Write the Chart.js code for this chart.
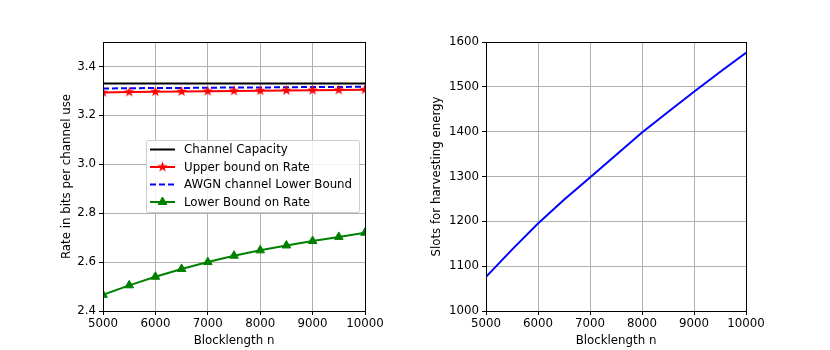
<!DOCTYPE html>
<html>
<head>
<meta charset="utf-8">
<script src="https://cdn.jsdelivr.net/npm/chart.js@4"></script>
<style>
  body { margin: 0; background: #fff; }
  #wrap { position: relative; width: 830px; height: 350px; }
  .box { position: absolute; top: 0; height: 350px; }
</style>
</head>
<body>
<div id="wrap">
  <div class="box" style="left:0;width:415px"><canvas id="left"></canvas></div>
  <div class="box" style="left:415px;width:415px"><canvas id="right"></canvas></div>
</div>
<script>
// blocklength values (x axis)
const blocklength = [5000, 5500, 6000, 6500, 7000, 7500, 8000, 8500, 9000, 9500, 10000]

// left panel series
const channelCapacity = [3.330, 3.330, 3.330, 3.330, 3.330, 3.330, 3.330, 3.330, 3.330, 3.330, 3.330]
const upperBound = [3.294, 3.296, 3.297, 3.298, 3.299, 3.300, 3.301, 3.302, 3.303, 3.304, 3.305]
const awgnLower = [3.310, 3.311, 3.312, 3.312, 3.313, 3.314, 3.314, 3.315, 3.316, 3.316, 3.317]
const lowerBound = [2.466, 2.505, 2.540, 2.572, 2.600, 2.626, 2.648, 2.668, 2.686, 2.703, 2.720]

// right panel series
const harvestSlots = [1076, 1137, 1195, 1248, 1298, 1348, 1398, 1444, 1489, 1533, 1576]

// tick labels
const xTicks = [5000, 6000, 7000, 8000, 9000, 10000]
const leftYTicks = [2.4, 2.6, 2.8, 3.0, 3.2, 3.4]
const rightYTicks = [1000, 1100, 1200, 1300, 1400, 1500, 1600]

const FONT = { family: 'DejaVu Sans', size: 11.8 }
Chart.defaults.font.family = 'DejaVu Sans'
Chart.defaults.color = '#000'

const toPoints = (ys) => ys.map((y, i) => ({ x: blocklength[i], y: y }))

// filled five-pointed star like matplotlib's '*' marker
function starMarker(color, r) {
  const c = document.createElement('canvas')
  const s = Math.ceil(r * 2 + 2)
  c.width = s; c.height = s
  const g = c.getContext('2d')
  g.fillStyle = color
  g.beginPath()
  for (let i = 0; i < 10; i++) {
    const rad = i % 2 === 0 ? r : r * 0.42
    const ang = -Math.PI / 2 + i * Math.PI / 5
    const px = s / 2 + rad * Math.cos(ang), py = s / 2 + rad * Math.sin(ang)
    if (i === 0) g.moveTo(px, py); else g.lineTo(px, py)
  }
  g.closePath()
  g.fill()
  return c
}
const redStar = starMarker('#ff0000', 5.5)

// draws the full black frame round the plot area
const frame = {
  id: 'frame',
  afterDraw(chart) {
    const { ctx, chartArea: a } = chart
    ctx.save()
    ctx.strokeStyle = '#000'
    ctx.lineWidth = 1
    ctx.strokeRect(Math.round(a.left) + 0.5, Math.round(a.top) + 0.5,
      Math.round(a.right - a.left), Math.round(a.bottom - a.top))
    ctx.restore()
  }
}

// matplotlib-ish legend inside the plot
const boxLegend = {
  id: 'boxLegend',
  afterDraw(chart) {
    const { ctx, chartArea: a } = chart
    const x0 = a.left + 43, y0 = a.top + 98, w = 213, h = 72
    ctx.save()
    ctx.fillStyle = 'rgba(255,255,255,0.85)'
    ctx.strokeStyle = '#cccccc'
    ctx.lineWidth = 1
    ctx.beginPath()
    ctx.roundRect(x0 + 0.5, y0 + 0.5, w, h, 2)
    ctx.fill()
    ctx.stroke()
    ctx.font = '11.8px "DejaVu Sans"'
    ctx.textBaseline = 'middle'
    chart.data.datasets.forEach((ds, i) => {
      const cy = y0 + 9.5 + i * 17.5
      ctx.strokeStyle = ds.borderColor
      ctx.lineWidth = ds.borderWidth
      ctx.setLineDash(ds.borderDash || [])
      ctx.beginPath()
      ctx.moveTo(x0 + 4, cy)
      ctx.lineTo(x0 + 29, cy)
      ctx.stroke()
      ctx.setLineDash([])
      if (ds.pointStyle && ds.pointRadius > 0) {
        ctx.fillStyle = ds.backgroundColor
        ctx.strokeStyle = ds.pointBorderColor
        ctx.lineWidth = ds.pointBorderWidth || 1
        Chart.helpers.drawPoint(ctx, {
          pointStyle: ds.pointStyle, radius: ds.pointRadius, rotation: 0,
          borderWidth: ds.pointBorderWidth || 1
        }, x0 + 16.5, cy)
      }
      ctx.fillStyle = '#000'
      ctx.fillText(ds.label, x0 + 38, cy + 0.5)
    })
    ctx.restore()
  }
}

function xScale() {
  return {
    type: 'linear', min: 5000, max: 10000,
    afterBuildTicks: (s) => { s.ticks = xTicks.map(v => ({ value: v })) },
    afterFit: (s) => { s.height = 39 },
    ticks: { font: FONT, padding: 2, maxRotation: 0, autoSkip: false, callback: (v) => String(v) },
    grid: { color: '#b0b0b0', tickColor: '#000', tickLength: 4, lineWidth: 1 },
    border: { color: '#000' },
    title: { display: true, text: 'Blocklength n', font: FONT, padding: { top: 2, bottom: 2 } }
  }
}

function yScale(min, max, ticks, fmt, width, label) {
  return {
    type: 'linear', min: min, max: max,
    afterBuildTicks: (s) => { s.ticks = ticks.map(v => ({ value: v })) },
    afterFit: (s) => { s.width = width },
    ticks: { font: FONT, padding: 3, callback: fmt },
    grid: { color: '#b0b0b0', tickColor: '#000', tickLength: 4, lineWidth: 1 },
    border: { color: '#000' },
    title: { display: true, text: label, font: FONT, padding: { top: 0, bottom: 0 } }
  }
}

const common = {
  responsive: true,
  maintainAspectRatio: false,
  animation: false,
  plugins: { legend: { display: false }, tooltip: { enabled: false } },
  elements: { line: { tension: 0 } }
}

new Chart(document.getElementById('left'), {
  type: 'line',
  data: {
    datasets: [
      { label: 'Channel Capacity', data: toPoints(channelCapacity), borderColor: '#000000',
        borderWidth: 2, pointRadius: 0 },
      { label: 'Upper bound on Rate', data: toPoints(upperBound), borderColor: '#ff0000',
        backgroundColor: '#ff0000', borderWidth: 2, pointStyle: redStar, pointRadius: 5,
        pointBorderWidth: 1, pointBorderColor: '#ff0000' },
      { label: 'AWGN channel Lower Bound', data: toPoints(awgnLower), borderColor: '#0000ff',
        borderWidth: 2, borderDash: [6, 3], pointRadius: 0 },
      { label: 'Lower Bound on Rate', data: toPoints(lowerBound), borderColor: '#008000',
        backgroundColor: '#008000', borderWidth: 2, pointStyle: 'triangle', pointRadius: 5,
        pointBorderWidth: 1, pointBorderColor: '#008000' }
    ]
  },
  options: {
    ...common,
    layout: { padding: { left: 60, right: 50, top: 42, bottom: 0 } },
    scales: {
      x: xScale(),
      y: yScale(2.4, 3.5, leftYTicks, (v) => v.toFixed(1), 43, 'Rate in bits per channel use')
    }
  },
  plugins: [frame, boxLegend]
})

new Chart(document.getElementById('right'), {
  type: 'line',
  data: {
    datasets: [
      { label: 'Slots for harvesting energy', data: toPoints(harvestSlots), borderColor: '#0000ff',
        borderWidth: 2, pointRadius: 0 }
    ]
  },
  options: {
    ...common,
    layout: { padding: { left: 15, right: 84, top: 42, bottom: 0 } },
    scales: {
      x: xScale(),
      y: yScale(1000, 1600, rightYTicks, (v) => String(v), 56, 'Slots for harvesting energy')
    }
  },
  plugins: [frame]
})
</script>
</body>
</html>
